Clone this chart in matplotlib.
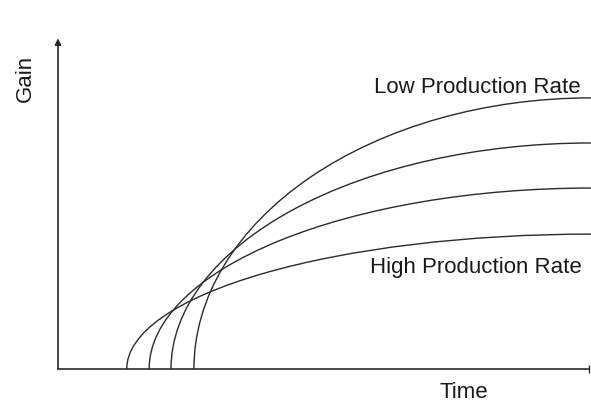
"""
Gain over time for four production rates (schematic chart).
"""

import matplotlib
matplotlib.use("Agg")
import matplotlib.pyplot as plt
from matplotlib.patches import Arc

# -------------------------------
# Data
# -------------------------------
rate_labels = ["High Production Rate", "", "", "Low Production Rate"]
start_times = [1.29, 1.71, 2.12, 2.55]      # time where gain starts rising
plateau_gains = [4.10, 5.50, 6.87, 8.24]    # gain reached at the end
end_time = 10.0

W, H = 591, 404
fig = plt.figure(figsize=(W / 100, H / 100), dpi=100)
plt.rcParams["font.family"] = ["Liberation Sans", "DejaVu Sans"]

# axes placed so that the origin sits at pixel (58, 369)
ax = fig.add_axes([58 / W, (H - 369) / H, 533 / W, 329 / H])
ax.set_xlim(0, 10)
ax.set_ylim(0, 10)
ax.axis("off")

line_color = "#2b2b2b"

# Each curve is a quarter ellipse from (start, 0) to (end_time, plateau)
for x0, gain in zip(start_times, plateau_gains):
    arc = Arc(
        (end_time, 0),
        width=2 * (end_time - x0),
        height=2 * gain,
        theta1=90,
        theta2=180,
        color=line_color,
        lw=1.0,
        clip_on=False,
    )
    ax.add_patch(arc)

# Axes: y with arrow head, x with a small end tick
ax.annotate(
    "",
    xy=(0, 10.05),
    xytext=(0, 0),
    arrowprops=dict(arrowstyle="-|>", color=line_color, lw=1.2,
                    mutation_scale=9, shrinkA=0, shrinkB=0),
    annotation_clip=False,
)
ax.plot([0, 9.97], [0, 0], color=line_color, lw=1.2, clip_on=False)
ax.plot([9.97], [0], marker="|", ms=6, color=line_color, clip_on=False)


def px(x, y):
    return x / W, 1 - y / H


fig.text(*px(581, 93), rate_labels[3], ha="right", va="baseline",
         fontsize=16, color="#1a1a1a")
fig.text(*px(582, 273), rate_labels[0], ha="right", va="baseline",
         fontsize=16, color="#1a1a1a")
fig.text(*px(464, 398), "Time", ha="center", va="baseline",
         fontsize=16, color="#1a1a1a")
fig.text(*px(25, 78), "Gain", ha="center", va="center", rotation=90,
         fontsize=16, color="#1a1a1a")

fig.savefig("out.png", dpi=100, facecolor="white")
